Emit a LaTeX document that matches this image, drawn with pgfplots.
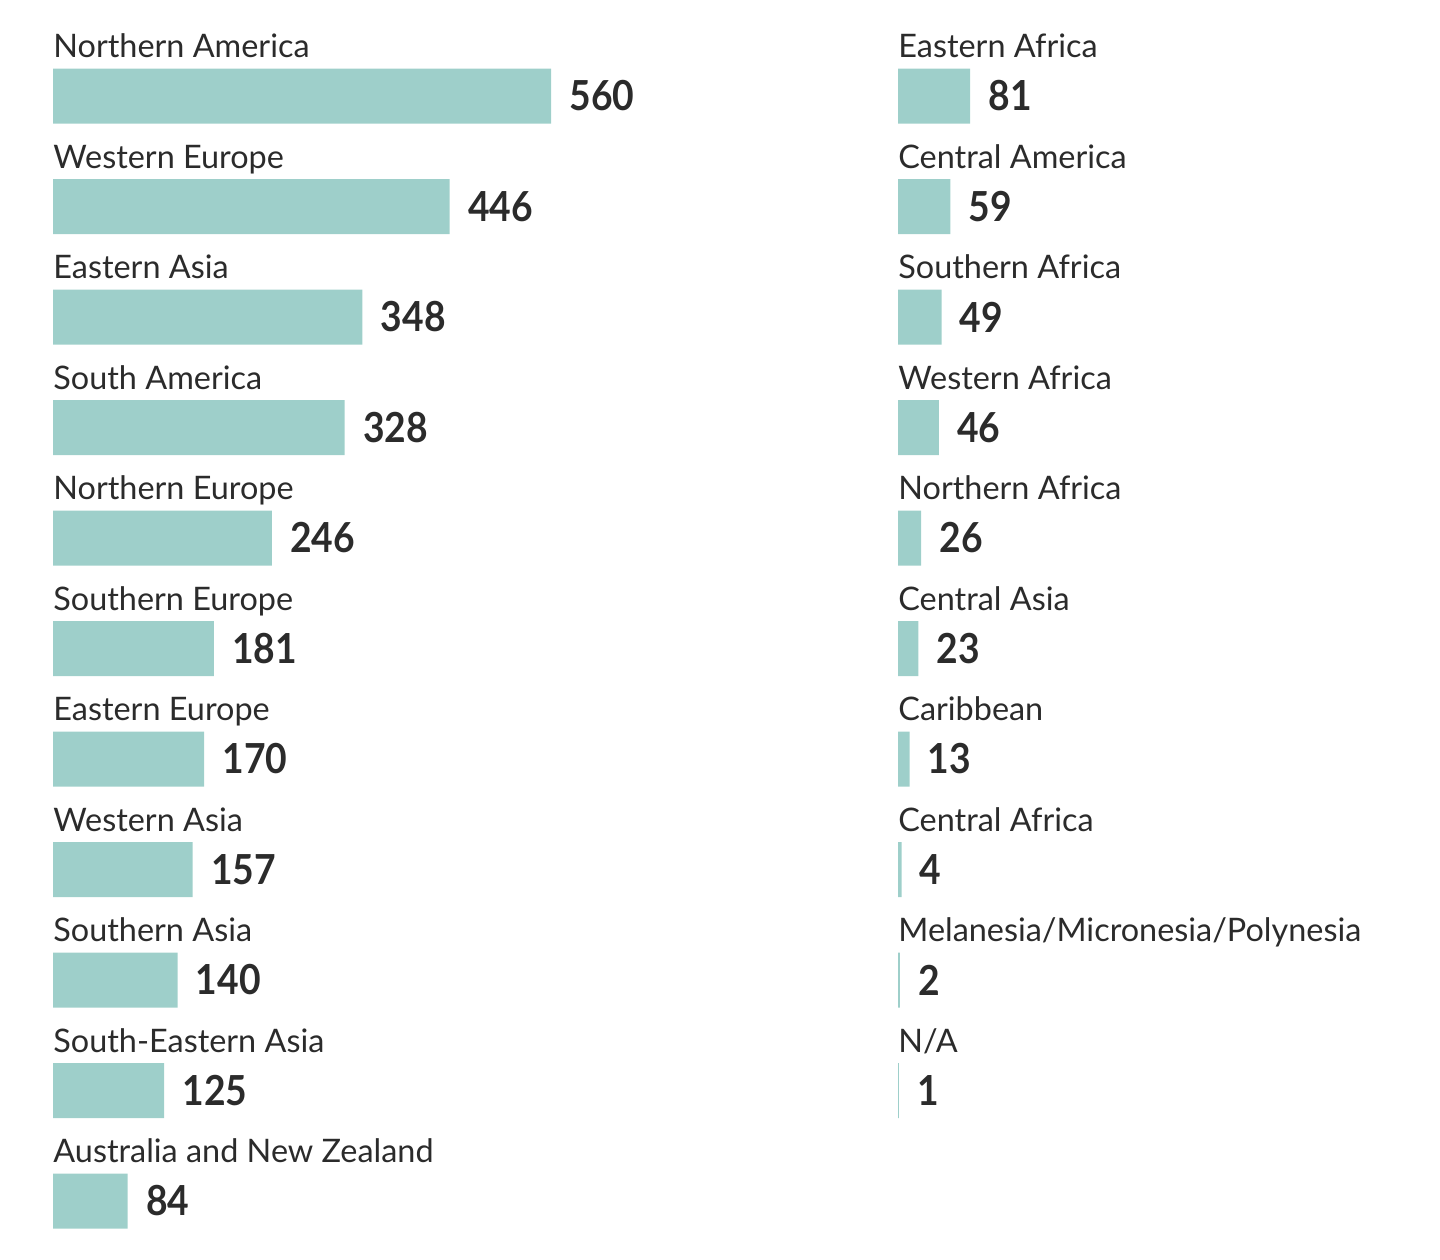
\documentclass[border=0pt]{standalone}
\usepackage{pgfplots}
\pgfplotsset{compat=1.18}
\usepackage{pgfplotstable}
\usepackage{fontspec}
\setmainfont{Lato}
\newfontfamily\valfont[FakeStretch=0.9]{Lato}
\definecolor{barc}{RGB}{158,207,202}
\definecolor{txt}{RGB}{43,43,43}

\pgfplotstableread[col sep=comma]{
idx,val,name
0,560,Northern America
1,446,Western Europe
2,348,Eastern Asia
3,328,South America
4,246,Northern Europe
5,181,Southern Europe
6,170,Eastern Europe
7,157,Western Asia
8,140,Southern Asia
9,125,South-Eastern Asia
10,84,Australia and New Zealand
}\lefttab

\pgfplotstableread[col sep=comma]{
idx,val,name
0,81,Eastern Africa
1,59,Central America
2,49,Southern Africa
3,46,Western Africa
4,26,Northern Africa
5,23,Central Asia
6,13,Caribbean
7,4,Central Africa
8,2,Melanesia/Micronesia/Polynesia
9,1,N/A
}\righttab

\pgfplotsset{
  mybars/.style={
    scale only axis, width=249pt, height=607.75pt,
    xmin=0, xmax=560, ymin=-0.5, ymax=10.5, y dir=reverse,
    hide axis, clip=false, anchor=south west,
    /pgf/number format/assume math mode=true,
  },
  barplot/.style={xbar, fill=barc, draw=none, bar width=27.5pt,
    nodes near coords,
    nodes near coords style={anchor=west, inner sep=0pt, xshift=9pt,
      text=txt, font=\valfont\bfseries\fontsize{20.7}{24}\selectfont}},
  labplot/.style={draw=none, mark=none, point meta=explicit symbolic,
    nodes near coords,
    nodes near coords style={anchor=base west, inner sep=0pt,
      text=txt, font=\fontsize{16.2}{19}\selectfont}},
}

\begin{document}
\begin{tikzpicture}
\useasboundingbox (0,0) rectangle (720pt,629.5pt);
\begin{axis}[mybars, at={(26.5pt,1.375pt)}]
  \addplot[barplot] table[x=val, y=idx] {\lefttab};
  \addplot[labplot] table[x expr=0, y expr=\thisrow{idx}-0.348, meta=name] {\lefttab};
\end{axis}
\begin{axis}[mybars, at={(449pt,1.375pt)}]
  \addplot[barplot] table[x=val, y=idx] {\righttab};
  \addplot[labplot] table[x expr=0, y expr=\thisrow{idx}-0.348, meta=name] {\righttab};
\end{axis}
\end{tikzpicture}
\end{document}
